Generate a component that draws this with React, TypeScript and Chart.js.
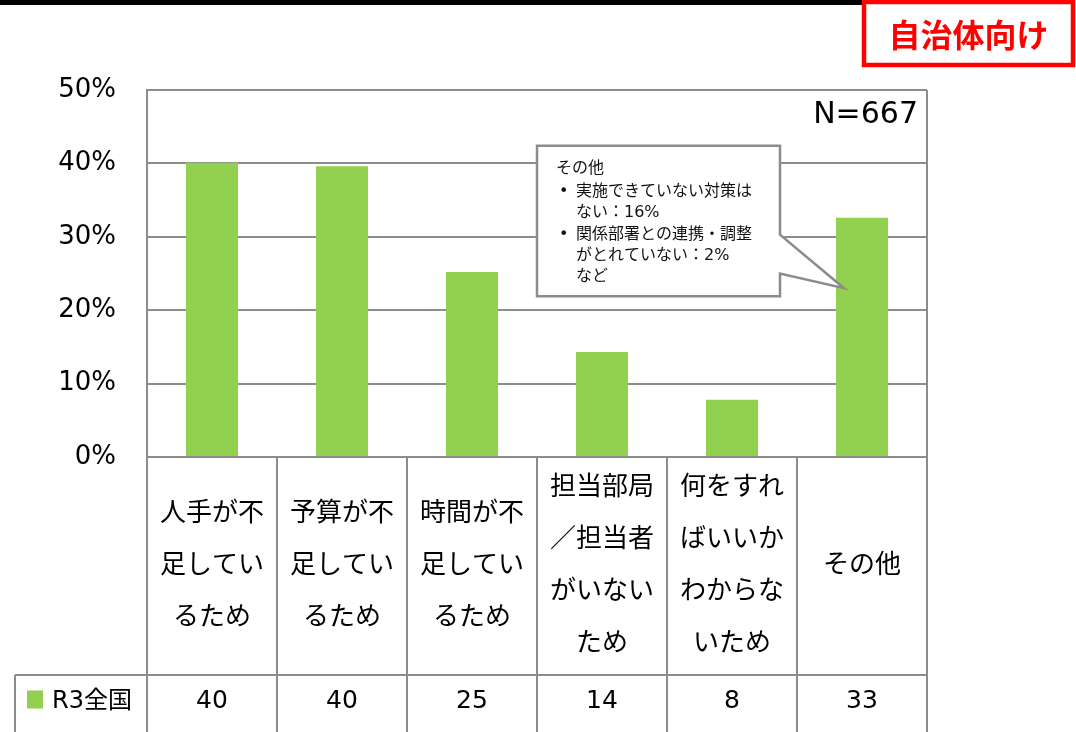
import React, { useEffect, useRef } from "react";
import { Chart, registerables } from "chart.js";

Chart.register(...registerables);

// ---- data ----
const categories: string[][] = [
  ["人手が不", "足してい", "るため"],
  ["予算が不", "足してい", "るため"],
  ["時間が不", "足してい", "るため"],
  ["担当部局", "／担当者", "がいない", "ため"],
  ["何をすれ", "ばいいか", "わからな", "いため"],
  ["その他"],
];
const seriesName = "R3全国";
const values = [40.1, 39.6, 25.2, 14.3, 7.8, 32.6];
const yMin = 0;
const yMax = 50;
const yStep = 10;
const sampleLabel = "N=667";
const badgeText = "自治体向け";
const calloutTitle = "その他";
const calloutBullets: string[][] = [
  ["実施できていない対策は", "ない：16%"],
  ["関係部署との連携・調整", "がとれていない：2%"],
];
const calloutTail = "など";

// ---- styles ----
const W = 1076;
const H = 732;
const GREEN = "#92D050";
const GRID = "#8c8c8c";
const MIX = '"DejaVu Sans", "Noto Sans CJK JP", sans-serif';
const JP = '"Noto Sans CJK JP", sans-serif';

const overlay = {
  id: "overlay",
  afterDraw(chart: any) {
    const { ctx } = chart;
    const { left, right, top, bottom } = chart.chartArea;
    const xs = chart.scales.x;
    const ys = chart.scales.y;
    const n = categories.length;
    const step = (right - left) / n;
    const rowTop = bottom + 218;
    const legendLeft = 15;

    ctx.save();
    // lines
    ctx.strokeStyle = GRID;
    ctx.lineWidth = 2;
    ctx.beginPath();
    ctx.moveTo(right, top);
    ctx.lineTo(right, H);
    ctx.moveTo(left, top);
    ctx.lineTo(left, H);
    for (let i = 1; i < n; i++) {
      const xx = Math.round(left + i * step);
      ctx.moveTo(xx, bottom);
      ctx.lineTo(xx, H);
    }
    ctx.moveTo(legendLeft, rowTop);
    ctx.lineTo(right, rowTop);
    ctx.moveTo(legendLeft, rowTop);
    ctx.lineTo(legendLeft, H);
    ctx.stroke();

    // category labels
    ctx.fillStyle = "#000";
    ctx.textAlign = "center";
    ctx.textBaseline = "middle";
    ctx.font = `26px ${JP}`;
    const labelCenter = (bottom + rowTop) / 2 - 3;
    const lh = 52;
    categories.forEach((lines, i) => {
      const cx = xs.getPixelForValue(i);
      const y0 = labelCenter - ((lines.length - 1) * lh) / 2;
      lines.forEach((ln, j) => ctx.fillText(ln, cx, y0 + j * lh));
    });

    // values row
    const rowMid = (rowTop + H) / 2 - 2;
    ctx.font = `25px ${MIX}`;
    values.forEach((v, i) => {
      ctx.fillText(String(Math.round(v)), xs.getPixelForValue(i), rowMid);
    });

    // legend cell
    ctx.fillStyle = GREEN;
    ctx.fillRect(27, rowMid - 11, 16, 18);
    ctx.fillStyle = "#000";
    ctx.textAlign = "left";
    ctx.font = `24px ${MIX}`;
    ctx.fillText(seriesName, 52, rowMid);

    // N label
    ctx.textAlign = "right";
    ctx.font = `30px ${MIX}`;
    ctx.fillText(sampleLabel, right - 9, top + 25);

    // callout
    const bl = xs.getPixelForValue(3) - 65;
    const br = xs.getPixelForValue(4) + 48;
    const bt = ys.getPixelForValue(42.4);
    const bb = ys.getPixelForValue(21.9);
    const t1 = ys.getPixelForValue(30.3);
    const t2 = ys.getPixelForValue(25.0);
    const tipX = xs.getPixelForValue(5) - 18;
    const tipY = ys.getPixelForValue(23.0);
    ctx.beginPath();
    ctx.moveTo(bl, bt);
    ctx.lineTo(br, bt);
    ctx.lineTo(br, t1);
    ctx.lineTo(tipX, tipY);
    ctx.lineTo(br, t2);
    ctx.lineTo(br, bb);
    ctx.lineTo(bl, bb);
    ctx.closePath();
    ctx.fillStyle = "#fff";
    ctx.fill();
    ctx.strokeStyle = GRID;
    ctx.lineWidth = 2.5;
    ctx.lineJoin = "miter";
    ctx.stroke();

    ctx.fillStyle = "#111";
    ctx.textAlign = "left";
    ctx.textBaseline = "middle";
    ctx.font = `16px ${MIX}`;
    let ty = bt + 23;
    ctx.fillText(calloutTitle, bl + 19, ty);
    ty += 23;
    calloutBullets.forEach((b) => {
      ctx.fillText("•", bl + 22, ty);
      b.forEach((ln, j) => {
        ctx.fillText(ln, bl + 39, ty);
        ty += j === b.length - 1 ? 22 : 21;
      });
    });
    ctx.fillText(calloutTail, bl + 39, ty - 1);

    // header
    ctx.fillStyle = "#000";
    ctx.fillRect(0, 0, 864, 5);
    ctx.strokeStyle = "#ff0000";
    ctx.lineWidth = 4.5;
    ctx.strokeRect(864, 2, 209, 63);
    ctx.fillStyle = "#ff0000";
    ctx.textAlign = "center";
    ctx.font = `bold 32px ${JP}`;
    ctx.fillText(badgeText, 968.5, 35);
    ctx.restore();
  },
};

export default function App() {
  const ref = useRef<HTMLCanvasElement | null>(null);
  useEffect(() => {
    document.body.style.margin = "0";
    const canvas = ref.current!;
    const chart = new Chart(canvas, {
      type: "bar",
      data: {
        labels: categories.map((c) => c.join("")),
        datasets: [
          {
            label: seriesName,
            data: values,
            backgroundColor: GREEN,
            borderWidth: 0,
            barPercentage: 0.4,
            categoryPercentage: 1.0,
          },
        ],
      },
      options: {
        responsive: false,
        animation: false,
        devicePixelRatio: 1,
        layout: { padding: { left: 0, top: 90, right: W - 927, bottom: H - 457 } },
        plugins: { legend: { display: false }, tooltip: { enabled: false } },
        scales: {
          x: {
            ticks: { display: false },
            grid: { display: false },
            border: { display: false },
            afterFit: (s: any) => {
              s.height = 0;
            },
          },
          y: {
            min: yMin,
            max: yMax,
            ticks: {
              stepSize: yStep,
              callback: (v: any) => `${v}%`,
              font: { family: MIX, size: 26 },
              color: "#000",
              padding: 31,
            },
            grid: { color: GRID, lineWidth: 2, drawTicks: false },
            border: { display: true, color: GRID, width: 2 },
            afterFit: (s: any) => {
              s.width = 147;
            },
          },
        },
      },
      plugins: [overlay],
    });
    return () => chart.destroy();
  }, []);
  return (
    <div style={{ width: W, height: H, background: "#fff" }}>
      <canvas ref={ref} width={W} height={H} style={{ width: W, height: H, display: "block" }} />
    </div>
  );
}
